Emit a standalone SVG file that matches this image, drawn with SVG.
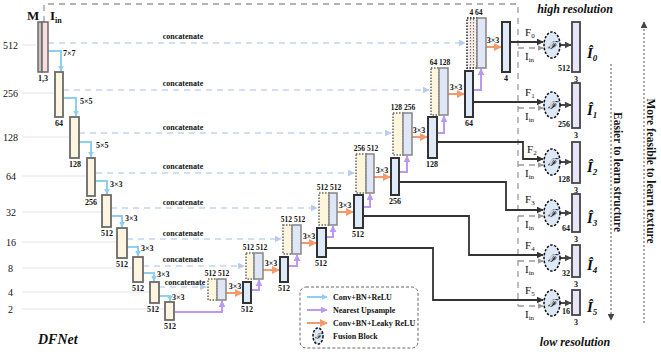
<svg xmlns="http://www.w3.org/2000/svg" width="661" height="355" viewBox="0 0 661 355">
<style>
text{font-family:"Liberation Serif","DejaVu Serif",serif;fill:#111}
.lab{font-size:8px;font-weight:bold;text-anchor:middle}
.cl{font-size:7.5px;font-weight:bold;text-anchor:middle}
.ax{font-size:10px}
.cat{font-size:8px;font-weight:bold;text-anchor:middle}
.k{font-size:8px;font-weight:bold}
.enc{fill:#fdf5df;stroke:#6a6a6a;stroke-width:1.8}
.dec{fill:#deeaf7;stroke:#333;stroke-width:2}
.cb{fill:#dfe7f6;stroke:#858585;stroke-width:1.5}
.cy{fill:#fdf6dc;stroke:#666;stroke-width:1.5;stroke-dasharray:1.5,1.5}
.out{fill:#e9e5f8;stroke:#444;stroke-width:1.8}
.fus{fill:#dde8f8;stroke:#111;stroke-width:1.5;stroke-dasharray:2.5,1.5}
.cyan{fill:none;stroke:#8ccfee;stroke-width:2}
.pur{fill:none;stroke:#b99af0;stroke-width:2}
.org{fill:none;stroke:#f4996b;stroke-width:2}
.blk{fill:none;stroke:#333;stroke-width:1.8}
.gry{fill:none;stroke:#9a9a9a;stroke-width:1.3;stroke-dasharray:6,5}
.catl{fill:none;stroke:#c3d4ee;stroke-width:1.5;stroke-dasharray:6,5}
.axl{stroke:#e4e4e4;stroke-width:1}
.F{font-size:11px}
.sub{font-size:7px}
.hat{font-size:15px;font-weight:bold;font-style:italic}
</style>
<defs>
<marker id="aC" viewBox="0 0 10 10" refX="9" refY="5" markerWidth="6" markerHeight="6" markerUnits="userSpaceOnUse" orient="auto"><path d="M0,0L10,5L0,10z" fill="#8ccfee"/></marker>
<marker id="aP" viewBox="0 0 10 10" refX="9" refY="5" markerWidth="7" markerHeight="7" markerUnits="userSpaceOnUse" orient="auto"><path d="M0,0L10,5L0,10z" fill="#b99af0"/></marker>
<marker id="aO" viewBox="0 0 10 10" refX="9" refY="5" markerWidth="8" markerHeight="8" markerUnits="userSpaceOnUse" orient="auto"><path d="M0,0L10,5L0,10z" fill="#f4996b"/></marker>
<marker id="aK" viewBox="0 0 10 10" refX="9" refY="5" markerWidth="7" markerHeight="7" markerUnits="userSpaceOnUse" orient="auto"><path d="M0,0L10,5L0,10z" fill="#333"/></marker>
<marker id="aG" viewBox="0 0 10 10" refX="9" refY="5" markerWidth="6" markerHeight="6" markerUnits="userSpaceOnUse" orient="auto"><path d="M0,0L10,5L0,10z" fill="#9a9a9a"/></marker>
<marker id="aB" viewBox="0 0 10 10" refX="9" refY="5" markerWidth="7" markerHeight="7" markerUnits="userSpaceOnUse" orient="auto"><path d="M0,0L10,5L0,10z" fill="#b8cdee"/></marker>
<marker id="aD" viewBox="0 0 10 10" refX="9" refY="5" markerWidth="7" markerHeight="7" markerUnits="userSpaceOnUse" orient="auto"><path d="M0,0L10,5L0,10z" fill="#444"/></marker>
</defs>
<rect width="661" height="355" fill="#fff"/>

<g id="axis">
<line class="axl" x1="22" y1="45" x2="36" y2="45"/><text class="ax" x="3" y="49">512</text>
<line class="axl" x1="22" y1="93" x2="55" y2="93"/><text class="ax" x="3" y="97">256</text>
<line class="axl" x1="22" y1="137" x2="70" y2="137"/><text class="ax" x="3" y="141">128</text>
<line class="axl" x1="22" y1="176" x2="87" y2="176"/><text class="ax" x="6" y="180">64</text>
<line class="axl" x1="22" y1="212" x2="102" y2="212"/><text class="ax" x="6" y="216">32</text>
<line class="axl" x1="22" y1="242" x2="117" y2="242"/><text class="ax" x="6" y="246">16</text>
<line class="axl" x1="22" y1="268" x2="133" y2="268"/><text class="ax" x="8" y="272">8</text>
<line class="axl" x1="22" y1="292" x2="150" y2="292"/><text class="ax" x="8" y="296">4</text>
<line class="axl" x1="22" y1="309" x2="165" y2="309"/><text class="ax" x="8" y="313">2</text>
</g>

<g id="connectors">
<path class="gry" d="M44,22V4H518V306"/>
<path class="catl" d="M48,43H465" marker-end="url(#aB)"/>
<path class="catl" d="M63,90H429" marker-end="url(#aB)"/>
<path class="catl" d="M79,133H391" marker-end="url(#aB)"/>
<path class="catl" d="M96,173H354" marker-end="url(#aB)"/>
<path class="catl" d="M111,208H317" marker-end="url(#aB)"/>
<path class="catl" d="M127,239H281" marker-end="url(#aB)"/>
<path class="catl" d="M143,266H244" marker-end="url(#aB)"/>
<path class="catl" d="M159,287H206" marker-end="url(#aB)"/>
<text class="cat" x="183" y="39">concatenate</text>
<text class="cat" x="183" y="86">concatenate</text>
<text class="cat" x="183" y="130">concatenate</text>
<text class="cat" x="183" y="169">concatenate</text>
<text class="cat" x="183" y="205">concatenate</text>
<text class="cat" x="183" y="236">concatenate</text>
<text class="cat" x="183" y="262">concatenate</text>
<text class="cat" x="185" y="285">concatenate</text>
<path class="cyan" d="M48,51H61V71" marker-end="url(#aC)"/>
<path class="cyan" d="M63,98H76V116" marker-end="url(#aC)"/>
<path class="cyan" d="M79,142H91V157" marker-end="url(#aC)"/>
<path class="cyan" d="M95,181H107V194" marker-end="url(#aC)"/>
<path class="cyan" d="M111,216H122V227" marker-end="url(#aC)"/>
<path class="cyan" d="M127,247H138V256" marker-end="url(#aC)"/>
<path class="cyan" d="M143,273H154V281" marker-end="url(#aC)"/>
<path class="cyan" d="M159,296H170V301" marker-end="url(#aC)"/>
<text class="k" x="63" y="56">7×7</text>
<text class="k" x="80" y="104">5×5</text>
<text class="k" x="96" y="148">5×5</text>
<text class="k" x="110" y="187">3×3</text>
<text class="k" x="125" y="221">3×3</text>
<text class="k" x="141" y="251">3×3</text>
<text class="k" x="157" y="277">3×3</text>
<text class="k" x="172" y="300">3×3</text>
<path class="pur" d="M174,312H222V301" marker-end="url(#aP)"/>
<path class="pur" d="M251,290H259V280" marker-end="url(#aP)"/>
<path class="pur" d="M288,266H297V255" marker-end="url(#aP)"/>
<path class="pur" d="M326,237H333V226" marker-end="url(#aP)"/>
<path class="pur" d="M363,207H370V194" marker-end="url(#aP)"/>
<path class="pur" d="M399,172H407V156" marker-end="url(#aP)"/>
<path class="pur" d="M437,133H444V116" marker-end="url(#aP)"/>
<path class="pur" d="M473,90H481V69" marker-end="url(#aP)"/>
<path class="org" d="M226,293H242" marker-end="url(#aO)"/>
<path class="org" d="M263,270H279" marker-end="url(#aO)"/>
<path class="org" d="M301,243H316" marker-end="url(#aO)"/>
<path class="org" d="M337,212H353" marker-end="url(#aO)"/>
<path class="org" d="M374,177H390" marker-end="url(#aO)"/>
<path class="org" d="M412,137H427" marker-end="url(#aO)"/>
<path class="org" d="M448,94H464" marker-end="url(#aO)"/>
<path class="org" d="M486,47H501" marker-end="url(#aO)"/>
<text class="lab" x="235" y="289">3×3</text>
<text class="lab" x="271" y="266">3×3</text>
<text class="lab" x="309" y="239">3×3</text>
<text class="lab" x="345" y="208">3×3</text>
<text class="lab" x="382" y="173">3×3</text>
<text class="lab" x="419" y="133">3×3</text>
<text class="lab" x="456" y="90">3×3</text>
<text class="lab" x="493" y="43">3×3</text>
<path class="blk" d="M510,42H543" marker-end="url(#aK)"/>
<path class="blk" d="M473,102H543" marker-end="url(#aK)"/>
<path class="blk" d="M437,142H523V159H543" marker-end="url(#aK)"/>
<path class="blk" d="M399,182H506V210H543" marker-end="url(#aK)"/>
<path class="blk" d="M363,216H469V255H543" marker-end="url(#aK)"/>
<path class="blk" d="M326,248H433V300H543" marker-end="url(#aK)"/>
<path class="gry" d="M518,48H543" stroke-dasharray="4,3" marker-end="url(#aG)"/>
<path class="gry" d="M518,108H543" stroke-dasharray="4,3" marker-end="url(#aG)"/>
<path class="gry" d="M518,165H543" stroke-dasharray="4,3" marker-end="url(#aG)"/>
<path class="gry" d="M518,216H543" stroke-dasharray="4,3" marker-end="url(#aG)"/>
<path class="gry" d="M518,261H543" stroke-dasharray="4,3" marker-end="url(#aG)"/>
<path class="gry" d="M518,306H543" stroke-dasharray="4,3" marker-end="url(#aG)"/>
<path class="blk" d="M560,45H571" marker-end="url(#aD)"/>
<path class="blk" d="M560,105H571" marker-end="url(#aD)"/>
<path class="blk" d="M560,162H571" marker-end="url(#aD)"/>
<path class="blk" d="M560,213H571" marker-end="url(#aD)"/>
<path class="blk" d="M560,258H571" marker-end="url(#aD)"/>
<path class="blk" d="M560,303H571" marker-end="url(#aD)"/>
<text class="F" x="525" y="36">F<tspan class="sub" dy="2">0</tspan></text>
<text class="F" x="525" y="60">I<tspan class="sub" dy="2">in</tspan></text>
<text class="F" x="525" y="96">F<tspan class="sub" dy="2">1</tspan></text>
<text class="F" x="525" y="120">I<tspan class="sub" dy="2">in</tspan></text>
<text class="F" x="527" y="153">F<tspan class="sub" dy="2">2</tspan></text>
<text class="F" x="525" y="177">I<tspan class="sub" dy="2">in</tspan></text>
<text class="F" x="525" y="203">F<tspan class="sub" dy="2">3</tspan></text>
<text class="F" x="525" y="228">I<tspan class="sub" dy="2">in</tspan></text>
<text class="F" x="525" y="249">F<tspan class="sub" dy="2">4</tspan></text>
<text class="F" x="525" y="273">I<tspan class="sub" dy="2">in</tspan></text>
<text class="F" x="525" y="294">F<tspan class="sub" dy="2">5</tspan></text>
<text class="F" x="525" y="318">I<tspan class="sub" dy="2">in</tspan></text>
</g>

<g id="input">
<rect x="38" y="22" width="4" height="50" fill="#c9c3c3" stroke="#6a6a6a" stroke-width="1.5"/>
<rect x="42" y="22" width="6" height="50" fill="#f9dde0" stroke="#6a6a6a" stroke-width="1.5"/>
<text x="27" y="20" font-size="13" font-weight="bold">M</text>
<text x="50" y="20" font-size="13" font-weight="bold">I<tspan font-size="8" dy="3">in</tspan></text>
<text class="lab" x="43" y="81">1,3</text>
</g>
<g id="enc1"><rect class="enc" x="55" y="72" width="8" height="45"/><text class="lab" x="59" y="126">64</text></g>
<g id="enc2"><rect class="enc" x="70" y="117" width="9" height="41"/><text class="lab" x="75" y="167">128</text></g>
<g id="enc3"><rect class="enc" x="87" y="158" width="8" height="38"/><text class="lab" x="91" y="205">256</text></g>
<g id="enc4"><rect class="enc" x="102" y="195" width="9" height="32"/><text class="lab" x="107" y="236">512</text></g>
<g id="enc5"><rect class="enc" x="117" y="228" width="10" height="30"/><text class="lab" x="122" y="267">512</text></g>
<g id="enc6"><rect class="enc" x="133" y="257" width="10" height="25"/><text class="lab" x="138" y="291">512</text></g>
<g id="enc7"><rect class="enc" x="150" y="282" width="9" height="21"/><text class="lab" x="153" y="312">512</text></g>
<g id="enc8"><rect class="enc" x="165" y="302" width="9" height="18"/><text class="lab" x="170" y="329">512</text></g>

<g id="cat4"><rect class="cy" x="208" y="279" width="9" height="21"/><rect class="cb" x="217" y="279" width="9" height="21"/><text class="cl" x="217" y="276">512 512</text></g>
<g id="dec4"><rect class="dec" x="243" y="282" width="8" height="21"/><text class="lab" x="247" y="312">512</text></g>
<g id="cat8"><rect class="cy" x="246" y="253" width="8" height="26"/><rect class="cb" x="254" y="253" width="9" height="26"/><text class="cl" x="255" y="250">512 512</text></g>
<g id="dec8"><rect class="dec" x="280" y="257" width="8" height="25"/><text class="lab" x="284" y="291">512</text></g>
<g id="cat16"><rect class="cy" x="283" y="225" width="9" height="29"/><rect class="cb" x="292" y="225" width="9" height="29"/><text class="cl" x="293" y="222">512 512</text></g>
<g id="dec16"><rect class="dec" x="317" y="228" width="9" height="29"/><text class="lab" x="321" y="266">512</text></g>
<g id="cat32"><rect class="cy" x="319" y="193" width="10" height="32"/><rect class="cb" x="329" y="193" width="8" height="32"/><text class="cl" x="329" y="190">512 512</text></g>
<g id="dec32"><rect class="dec" x="354" y="195" width="9" height="33"/><text class="lab" x="358" y="237">512</text></g>
<g id="cat64"><rect class="cy" x="356" y="154" width="10" height="39"/><rect class="cb" x="366" y="154" width="8" height="39"/><text class="cl" x="366" y="151">256 512</text></g>
<g id="dec64"><rect class="dec" x="391" y="158" width="8" height="37"/><text class="lab" x="395" y="204">256</text></g>
<g id="cat128"><rect class="cy" x="393" y="113" width="10" height="42"/><rect class="cb" x="403" y="113" width="9" height="42"/><text class="cl" x="403" y="110">128 256</text></g>
<g id="dec128"><rect class="dec" x="428" y="117" width="9" height="41"/><text class="lab" x="432" y="167">128</text></g>
<g id="cat256"><rect class="cy" x="431" y="68" width="8" height="47"/><rect class="cb" x="439" y="68" width="9" height="47"/><text class="cl" x="440" y="65">64 128</text></g>
<g id="dec256"><rect class="dec" x="465" y="71" width="8" height="46"/><text class="lab" x="469" y="126">64</text></g>
<g id="cat512"><rect x="467" y="18" width="10" height="50" fill="#fbefea" stroke="#444" stroke-width="1.8" stroke-dasharray="1.5,1.5"/><line x1="470.5" y1="19" x2="470.5" y2="67" stroke="#777" stroke-width="1.2" stroke-dasharray="1.5,1.5"/><line x1="473.5" y1="19" x2="473.5" y2="67" stroke="#777" stroke-width="1.2" stroke-dasharray="1.5,1.5"/><rect class="cb" x="477" y="18" width="9" height="50"/><text class="cl" x="476" y="15">4 64</text></g>
<g id="dec512"><rect class="dec" x="502" y="22" width="8" height="50"/><text class="lab" x="506" y="81">4</text></g>

<g id="fusion0"><ellipse class="fus" cx="552" cy="45" rx="8" ry="13"/><text x="552" y="49" font-size="11" font-style="italic" text-anchor="middle">ℱ</text></g>
<g id="fusion1"><ellipse class="fus" cx="552" cy="105" rx="8" ry="13"/><text x="552" y="109" font-size="11" font-style="italic" text-anchor="middle">ℱ</text></g>
<g id="fusion2"><ellipse class="fus" cx="552" cy="162" rx="8" ry="13"/><text x="552" y="166" font-size="11" font-style="italic" text-anchor="middle">ℱ</text></g>
<g id="fusion3"><ellipse class="fus" cx="552" cy="213" rx="8" ry="13"/><text x="552" y="217" font-size="11" font-style="italic" text-anchor="middle">ℱ</text></g>
<g id="fusion4"><ellipse class="fus" cx="552" cy="258" rx="8" ry="13"/><text x="552" y="262" font-size="11" font-style="italic" text-anchor="middle">ℱ</text></g>
<g id="fusion5"><ellipse class="fus" cx="552" cy="303" rx="8" ry="13"/><text x="552" y="307" font-size="11" font-style="italic" text-anchor="middle">ℱ</text></g>

<g id="out0"><rect class="out" x="572" y="22" width="8" height="50"/><text class="lab" x="570" y="71" style="text-anchor:end">512</text><text class="lab" x="576" y="82">3</text><text class="hat" x="587" y="58">Î<tspan font-size="9" dy="3">0</tspan></text></g>
<g id="out1"><rect class="out" x="572" y="83" width="8" height="45"/><text class="lab" x="570" y="127" style="text-anchor:end">256</text><text class="lab" x="576" y="138">3</text><text class="hat" x="587" y="115">Î<tspan font-size="9" dy="3">1</tspan></text></g>
<g id="out2"><rect class="out" x="572" y="142" width="8" height="41"/><text class="lab" x="570" y="182" style="text-anchor:end">128</text><text class="lab" x="576" y="193">3</text><text class="hat" x="587" y="172">Î<tspan font-size="9" dy="3">2</tspan></text></g>
<g id="out3"><rect class="out" x="572" y="194" width="8" height="38"/><text class="lab" x="570" y="231" style="text-anchor:end">64</text><text class="lab" x="576" y="242">3</text><text class="hat" x="587" y="223">Î<tspan font-size="9" dy="3">3</tspan></text></g>
<g id="out4"><rect class="out" x="572" y="245" width="8" height="32"/><text class="lab" x="570" y="276" style="text-anchor:end">32</text><text class="lab" x="576" y="287">3</text><text class="hat" x="587" y="270">Î<tspan font-size="9" dy="3">4</tspan></text></g>
<g id="out5"><rect class="out" x="572" y="290" width="8" height="25"/><text class="lab" x="570" y="314" style="text-anchor:end">16</text><text class="lab" x="576" y="325">3</text><text class="hat" x="587" y="312">Î<tspan font-size="9" dy="3">5</tspan></text></g>

<g id="resolution">
<text x="575" y="13" font-size="12" font-weight="bold" font-style="italic" text-anchor="middle">high resolution</text>
<text x="575" y="346" font-size="12" font-weight="bold" font-style="italic" text-anchor="middle">low resolution</text>
<line x1="611" y1="64" x2="611" y2="320" stroke="#555" stroke-width="1" stroke-dasharray="2,2" marker-end="url(#aD)"/>
<text transform="translate(614,172) rotate(90)" font-size="11.5" font-weight="bold" text-anchor="middle">Easier to learn structure</text>
<line x1="644" y1="323" x2="644" y2="22" stroke="#555" stroke-width="1" stroke-dasharray="2,2" marker-end="url(#aD)"/>
<text transform="translate(647,171) rotate(90)" font-size="11.5" font-weight="bold" text-anchor="middle">More feasible to learn texture</text>
</g>

<g id="legend">
<rect x="300" y="287" width="118" height="61" rx="6" fill="none" stroke="#666" stroke-width="1" stroke-dasharray="3,2"/>
<path class="cyan" d="M307,297H327" marker-end="url(#aC)"/>
<text class="k" x="333" y="300" font-size="8.5">Conv+BN+ReLU</text>
<path class="pur" d="M307,310H327" marker-end="url(#aP)"/>
<text class="k" x="333" y="313" font-size="8.5">Nearest Upsample</text>
<path class="org" d="M307,323H327" marker-end="url(#aO)"/>
<text class="k" x="333" y="326" font-size="8.5">Conv+BN+Leaky ReLU</text>
<ellipse class="fus" cx="318" cy="336" rx="5" ry="8"/>
<text x="318" y="339" font-size="8" font-style="italic" text-anchor="middle">ℱ</text>
<text class="k" x="333" y="339" font-size="8.5">Fusion Block</text>
</g>

<text x="38" y="344" font-size="14" font-weight="bold" font-style="italic">DFNet</text>
</svg>
